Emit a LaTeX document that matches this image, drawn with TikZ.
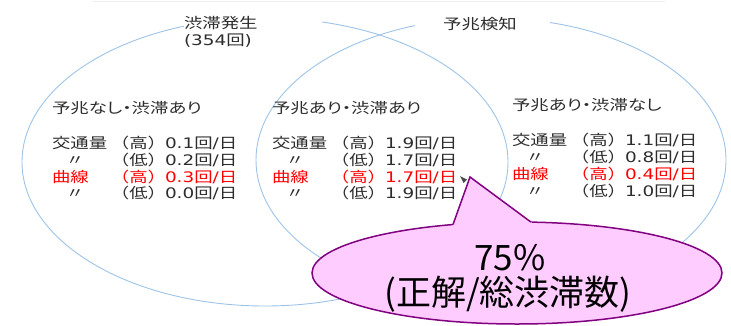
\documentclass[tikz,border=0pt]{standalone}
\usepackage{fontspec}
\usetikzlibrary{shapes.geometric,calc}
\newfontfamily\jp{Noto Sans CJK JP}[FakeStretch=1.27]
\newfontfamily\jph{Noto Sans CJK JP}[FakeStretch=1.27,RawFeature={+palt}]
\newfontfamily\lat{DejaVu Sans}[FakeStretch=1.27]
\newfontfamily\calfont{Noto Sans CJK JP}
\definecolor{venn}{RGB}{157,195,230}
\definecolor{calfill}{RGB}{255,204,255}
\definecolor{calline}{RGB}{128,0,128}
\definecolor{ink}{RGB}{45,45,45}
\definecolor{hot}{RGB}{255,0,0}
\newcommand\val[1]{{\lat #1}回{\lat /}日}
\newcommand\trow[7]{%
  \node[txt,text=#4,anchor=base west] (#1l) at ({#2-1},#3) {#5};
  \node[txt,text=#4,anchor=base] (#1p) at ({#2+85.5},#3) {#6};
  \node[txt,text=#4,anchor=base west] (#1v) at ({#2+112},#3) {\val{#7}};}
\newcommand\drow[6]{%
  \node[txt,text=#4,anchor=base] (#1l) at ({#2+22},#3) {〃};
  \node[txt,text=#4,anchor=base] (#1p) at ({#2+85.5},#3) {#5};
  \node[txt,text=#4,anchor=base west] (#1v) at ({#2+112},#3) {\val{#6}};}
\begin{document}
\begin{tikzpicture}[x=1pt,y=-1pt,
  txt/.style={inner sep=0pt,outer sep=0pt,text=ink,font=\jp\fontsize{14.5pt}{17pt}\selectfont},
  head/.style={inner sep=0pt,outer sep=0pt,text=ink,font=\jph\fontsize{14.5pt}{17pt}\selectfont,anchor=base west},
  vennset/.style={ellipse,draw=venn,line width=0.9pt,inner sep=0pt,outer sep=0pt},
  mask/.style={fill=white,inner sep=0pt,outer sep=0pt,anchor=north west},
  calltxt/.style={inner sep=0pt,outer sep=0pt,text=black,font=\calfont\fontsize{35pt}{40pt}\selectfont,anchor=base}]
\useasboundingbox (0,0) rectangle (731,325);
\draw[black!7,line width=0.6pt] (93,1) -- (665,1);
% Venn sets
\node[vennset,minimum width=486pt,minimum height=288pt] (jam) at (265,162) {};
\node[vennset,minimum width=470pt,minimum height=284pt] (sign) at (491,160) {};
% title masks and titles
\node[mask,minimum width=138pt,minimum height=40pt] (maskA) at (184,8) {};
\node[mask,minimum width=135pt,minimum height=30pt] (maskB) at (415,8) {};
\node[txt,anchor=base west] (titleA) at (184,28.5) {渋滞発生};
\node[txt,anchor=base west] (countA) at (184,45.5) {{\lat(354}回{\lat)}};
\node[txt,anchor=base] (titleB) at (480,29.5) {予兆検知};
% left block
\node[head] (hL) at (52,113.5) {予兆なし・渋滞あり};
\trow{L1}{53}{148.5}{ink}{交通量}{（高）}{0.1}
\drow{L2}{53}{165.5}{ink}{（低）}{0.2}
\trow{L3}{53}{182.5}{hot}{曲線}{（高）}{0.3}
\drow{L4}{53}{198.5}{ink}{（低）}{0.0}
% middle block
\node[head] (hM) at (272,113.5) {予兆あり・渋滞あり};
\trow{M1}{273}{148.5}{ink}{交通量}{（高）}{1.9}
\drow{M2}{273}{165.5}{ink}{（低）}{1.7}
\trow{M3}{273}{182.5}{hot}{曲線}{（高）}{1.7}
\drow{M4}{273}{198.5}{ink}{（低）}{1.9}
% right block
\node[head] (hR) at (512,110.5) {予兆あり・渋滞なし};
\trow{R1}{513}{145.5}{ink}{交通量}{（高）}{1.1}
\drow{R2}{513}{162.5}{ink}{（低）}{0.8}
\trow{R3}{513}{179.5}{hot}{曲線}{（高）}{0.4}
\drow{R4}{513}{196.5}{ink}{（低）}{1.0}
% small arrow tip near the callout
\fill[black!70] (460,176) -- (467,179.5) -- (463.5,183) -- cycle;
% callout
\node[ellipse,fill=calfill,draw=calline,line width=1.5pt,inner sep=0pt,outer sep=0pt,
  minimum width=410pt,minimum height=102pt] (callout) at (517,273) {};
\coordinate (tip) at (470,177);
\coordinate (bl) at (453,224.5);
\coordinate (br) at (531,222.1);
\fill[calfill] (tip) -- ($(tip)!1.2!(bl)$) -- ($(tip)!1.2!(br)$) -- cycle;
\draw[calline,line width=1.5pt,line join=miter] (bl) -- (tip) -- (br);
\node[calltxt] (pct) at (510,270) {75\%};
\node[calltxt] (ratio) at (508,305) {(正解/総渋滞数)};
\end{tikzpicture}
\end{document}
